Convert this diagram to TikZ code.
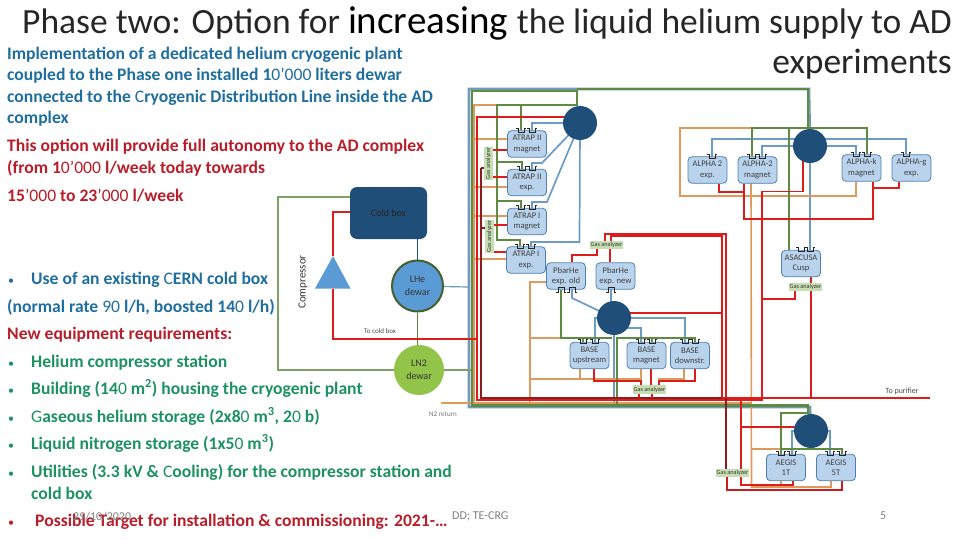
\documentclass[tikz,border=0pt]{standalone}
\usepackage{fontspec}
\setmainfont{Carlito}
\usetikzlibrary{backgrounds}
\definecolor{lblue}{HTML}{6F9BB8}
\definecolor{pblue}{HTML}{6A9BCB}
\definecolor{lgreen}{HTML}{5F8A42}
\definecolor{lorange}{HTML}{DD9A5C}
\definecolor{lred}{HTML}{DD1C1C}
\definecolor{dred}{HTML}{8E1B1E}
\definecolor{boxfill}{HTML}{B9D3EC}
\definecolor{boxline}{HTML}{4F7FAE}
\definecolor{navy}{HTML}{1F4E79}
\definecolor{gasfill}{HTML}{C6DFB2}
\definecolor{tblue}{HTML}{1F6E9E}
\definecolor{tred}{HTML}{B81E2A}
\definecolor{tgreen}{HTML}{1E9162}
\definecolor{foot}{HTML}{808080}
\definecolor{lhefill}{HTML}{5B9BD5}
\definecolor{lnfill}{HTML}{92C44A}
\tikzset{
 exptbox/.style={draw=boxline,fill=boxfill,line width=.8pt,rounded corners=4pt,minimum width=39pt,minimum height=26.5pt,inner sep=0pt,align=center,text=black!75,font=\fontsize{8.6}{10.5}\selectfont},
 hub/.style={circle,fill=navy,minimum size=34pt,inner sep=0pt},
 gasbox/.style={fill=gasfill,inner sep=0pt,minimum width=33pt,minimum height=8.5pt,font=\fontsize{6.2}{7}\selectfont,text=black!80},
 gasboxv/.style={gasbox,rotate=90},
 small/.style={text=black!70,font=\fontsize{7}{8}\selectfont,inner sep=0pt},
 blue1/.style={draw=lblue,line width=2.6pt},
 blue2/.style={draw=pblue,line width=1.7pt},
 green1/.style={draw=lgreen,line width=2.2pt},
 green2/.style={draw=lgreen,line width=1.4pt},
 orange1/.style={draw=lorange,line width=1.6pt},
 red1/.style={draw=lred,line width=2pt},
 red2/.style={draw=lred,line width=1.3pt},
 dark1/.style={draw=dred,line width=1.6pt},
 tline/.style={anchor=base west,inner sep=0pt,font=\fontsize{17.6}{20}\selectfont\bfseries},
 bul/.style={anchor=base west,inner sep=0pt,font=\fontsize{12}{14}\selectfont},
 port/.style={draw=black!85,line width=.6pt},
 footer/.style={anchor=base west,inner sep=0pt,text=foot,font=\fontsize{12}{14}\selectfont}
}
\newcommand{\topport}[2]{\draw[port] (#1-5,#2-3)--(#1-3,#2-3)--(#1-3,#2+1)--(#1+3,#2+1)--(#1+3,#2-3)--(#1+5,#2-3);}
\newcommand{\botport}[2]{\draw[port] (#1-5,#2+3)--(#1-3,#2+3)--(#1-3,#2-2)--(#1+3,#2-2)--(#1+3,#2+3)--(#1+5,#2+3);}
\newcommand{\lite}[1]{{\mdseries #1}}
\begin{document}
\begin{tikzpicture}[x=1pt,y=-1pt]
\pgfdeclarelayer{lines}\pgfsetlayers{lines,main}
\useasboundingbox (0,0) rectangle (960,540);
% ---- title
\node[anchor=base west,inner sep=0pt,font=\fontsize{35.5}{40}\selectfont] (ttl) at (22,33.5)
 {\textcolor{black!85}{Phase two: Option for }\fontsize{39}{40}\selectfont increasing \fontsize{35.5}{40}\selectfont\textcolor{black!85}{the liquid helium supply to AD}};
\node[anchor=base east,inner sep=0pt,font=\fontsize{35.5}{40}\selectfont,text=black!85] (ttl2) at (952,74) {experiments};
% ---- left text
\begin{scope}[text=tblue]
\node[tline] (t1) at (7,60) {Implementation of a dedicated helium cryogenic plant};
\node[tline] (t2) at (7,81) {coupled to the Phase one installed 1\lite{0’000} liters dewar};
\node[tline] (t3) at (7,103) {connected to the \lite{C}ryogenic Distribution Line inside the AD};
\node[tline] (t4) at (7,124) {complex};
\node[bul] (b1) at (8,284) {•};
\node[tline] (t8) at (31,284) {Use of an existing \lite{C}ERN cold box};
\node[tline] (t9) at (7,312) {(normal rate \lite{90} l/h, boosted 14\lite{0} l/h)};
\end{scope}
\begin{scope}[text=tred]
\node[tline] (t5) at (7,152) {This option will provide full autonomy to the AD complex};
\node[tline] (t6) at (7,174) {(from 1\lite{0’000} l/week today towards};
\node[tline] (t7) at (7,201) {15\lite{’000} to 23\lite{’000} l/week};
\node[tline] (t10) at (7,339) {New equipment requirements:};
\node[bul] (b7) at (8,526) {•};
\node[tline] (t17) at (35,526) {Possible Target for installation \& commissioning: 2021-…};
\end{scope}
\begin{scope}[text=tgreen]
\node[bul] (b2) at (8,367) {•};
\node[tline] (t11) at (31,367) {Helium compressor station};
\node[bul] (b3) at (8,394) {•};
\node[tline] (t12) at (31,394) {Building (14\lite{0} m\textsuperscript{2}) housing the cryogenic plant};
\node[bul] (b4) at (8,422) {•};
\node[tline] (t13) at (31,422) {\lite{G}aseous helium storage (2x8\lite{0} m\textsuperscript{3}, 2\lite{0} b)};
\node[bul] (b5) at (8,449) {•};
\node[tline] (t14) at (31,449) {Liquid nitrogen storage (1x5\lite{0} m\textsuperscript{3})};
\node[bul] (b6) at (8,477) {•};
\node[tline] (t15) at (31,477) {Utilities (3.3 kV \& \lite{C}ooling) for the compressor station and};
\node[tline] (t16) at (31,499) {cold box};
\end{scope}
\node[footer] (f1) at (73,520) {29/10/2020};
\node[footer] (f2) at (452,519) {DD; TE-CRG};
\node[footer] (f3) at (880,519) {5};
% ---- plant
\node[draw=none,fill=navy,rounded corners=7pt,minimum width=77pt,minimum height=52pt,inner sep=0pt,text=black!85,font=\fontsize{10}{11}\selectfont] (cold) at (388.5,213) {Cold box};
\node[circle,draw=lgreen!70!black,line width=2pt,fill=lhefill,minimum size=51pt,inner sep=0pt,align=center,text=black!80,font=\fontsize{10}{13}\selectfont] (lhe) at (417.5,286) {LHe\\dewar};
\node[circle,fill=lnfill,minimum size=50pt,inner sep=0pt,align=center,text=black!80,font=\fontsize{10}{13}\selectfont] (ln2) at (419,370) {LN2\\dewar};
\fill[lhefill] (333,256) -- (350.5,288.5) -- (315,288.5) -- cycle;
\coordinate (cmptop) at (333,256); \coordinate (cmpbot) at (333,288.5);
\node[rotate=90,inner sep=0pt,font=\fontsize{11}{12}\selectfont,text=black!80] (cmplbl) at (303,282) {Compressor};
\node[small] (tocold) at (380,331) {To cold box};
\node[small,text=black!55] (n2ret) at (443,414) {N2 return};
\node[small,font=\fontsize{8}{9}\selectfont] (topur) at (902,391) {To purifier};
% ---- experiment boxes
\node[exptbox] (a2m) at (527,144) {ATRAP II\\magnet};
\node[exptbox] (a2e) at (527,182.5) {ATRAP II\\exp.};
\node[exptbox] (a1m) at (527,221.5) {ATRAP I\\magnet};
\node[exptbox] (a1e) at (526,260) {ATRAP I\\exp.};
\node[exptbox] (pbo) at (566,276) {PbarHe\\exp. old};
\node[exptbox] (pbn) at (615.5,276) {PbarHe\\exp. new};
\node[exptbox] (bu) at (589.5,355.5) {BASE\\upstream};
\node[exptbox] (bm) at (646.5,355.5) {BASE\\magnet};
\node[exptbox] (bd) at (690,355.5) {BASE\\downstr.};
\node[exptbox] (al2) at (707.5,170) {ALPHA 2\\exp.};
\node[exptbox] (alm) at (757.5,170) {ALPHA-2\\magnet};
\node[exptbox] (alk) at (861.5,168) {ALPHA-k\\magnet};
\node[exptbox] (alg) at (911.5,168) {ALPHA-g\\exp.};
\node[exptbox] (asa) at (801,263.5) {ASACUSA\\Cusp};
\node[exptbox] (ae1) at (786,467.5) {AEGIS\\1T};
\node[exptbox] (ae5) at (836,467.5) {AEGIS\\5T};
% ---- hubs
\node[hub] (h1) at (580,123) {};
\node[hub] (h2) at (810,146) {};
\node[hub] (h3) at (614,318) {};
\node[hub] (h4) at (811,431) {};
% ---- gas analyzers
\node[gasboxv] (g1) at (488.5,163.5) {Gas analyzer};
\node[gasboxv] (g2) at (489.5,236.5) {Gas analyzer};
\node[gasbox] (g3) at (606.5,245) {Gas analyzer};
\node[gasbox] (g4) at (805.5,287) {Gas analyzer};
\node[gasbox] (g5) at (649.5,389.5) {Gas analyzer};
\node[gasbox] (g6) at (732.5,473) {Gas analyzer};
% ---- ports
\foreach \x/\y in {521/131,532/131,522/169,532/169,521/208,532/208,520/247,531/247,712/157,752/157,762/157,856/155,867/155,906/155,801/250,810/250,583/342,595/342,641/342,652/342,685/342,695/342,781/454,792/454,830/454,842/454}{\topport{\x}{\y}}
\foreach \x/\y in {561/289,572/289,611/289}{\botport{\x}{\y}}
% ---- lines
\begin{pgfonlayer}{lines}
% main blue trunk
\draw[blue1] (h2.center) -- (809,89) -- (469,89) -- (469,407) -- (810,407) -- (h4.center);
\draw[blue1] (h3.center) -- (614,407);
% blue to experiments
\draw[blue2] (h1.center) -- (532,123) -- (a2m.north -| 532,0);
\draw[blue2] (h1.center) -- (542,163) -- (532,163) -- (a2e.north -| 532,0);
\draw[blue2] (h1.center) -- (547,202) -- (532,202) -- (a1m.north -| 532,0);
\draw[blue2] (h1.center) -- (579.5,242) -- (531,242) -- (a1e.north -| 531,0);
\draw[blue2] (h2.center |- 0,139) -- (712,139) -- (al2.north -| 712,0);
\draw[blue2] (h2.center |- 0,139) -- (906,139) -- (alg.north -| 906,0);
\draw[blue2] (h2.center) -- (762,146) -- (alm.north -| 762,0);
\draw[blue2] (h2.center) -- (856,146) -- (alk.north -| 856,0);
\draw[blue2] (h2.center) -- (asa.north -| 810,0);
\draw[blue2] (pbo.south -| 572,0) -- (572,298) -- (h3.center);
\draw[blue2] (pbn.south -| 611,0) -- (h3.center -| 611,0);
\draw[blue2] (h3.center) -- (595,318) -- (bu.north -| 595,0);
\draw[blue2] (h3.center) -- (685,318) -- (bd.north -| 685,0);
\draw[blue2] (h3.center) -- (628,328) -- (641,328) -- (bm.north -| 641,0);
\draw[blue2] (h4.center) -- (792,431) -- (ae1.north -| 792,0);
\draw[blue2] (h4.center) -- (830,431) -- (ae5.north -| 830,0);
\draw[draw=lblue,line width=1.2pt] (lhe) -- (468,287);
% orange
\draw[orange1] (497,105) -- (474,105) -- (474,402.7) -- (441,402.7);
\draw[orange1] (474,402.7) -- (752,402.7);
\draw[orange1] (474,139) -- (a2m.west |- 0,139);
\draw[orange1] (474,187) -- (a2e.west |- 0,187);
\draw[orange1] (474,216) -- (a1m.west |- 0,216);
\draw[orange1] (474,259) -- (a1e.west |- 0,259);
\draw[orange1] (pbo.west |- 0,282) -- (530,282) -- (530,402.7);
\draw[draw=lorange,line width=1.2pt] (530,338) -- (561,338);
\draw[orange1,line width=1.2pt] (530,379) -- (641,379) -- (g5.north -| 641,0);
\draw[orange1,line width=1.2pt] (bu.south -| 580,0) -- (580,379);
\draw[orange1,line width=1.2pt] (bm.south -| 641,0) -- (641,379);
\draw[orange1,line width=1.2pt] (g5.north -| 659,0) -- (659,379) -- (684,379) -- (bd.south -| 684,0);
\draw[orange1,line width=1.2pt] (752,128) -- (680,128) -- (680,196) -- (856,196) -- (alk.south -| 856,0);
\draw[orange1] (alm.south -| 751,0) -- (751.5,487) -- (831,487) -- (ae5.south -| 831,0);
\draw[orange1,line width=1.2pt] (ae1.south -| 781,0) -- (781,487);
\draw[orange1,line width=1.2pt] (751.5,449) -- (781,449);
% green
\draw[green1] (472,402) -- (472,91) -- (577,91) -- (577,105) -- (497,105) -- (497,240) -- (520,240) -- (a1e.north -| 520,0);
\draw[green1] (472,402) -- (472,405.5) -- (808,405.5) -- (808,413) -- (781,413) -- (ae1.north -| 781,0);
\draw[green1] (521,105) -- (a2m.north -| 521,0);
\draw[green1] (497,162) -- (522,162) -- (a2e.north -| 522,0);
\draw[green1] (497,201) -- (521,201) -- (a1m.north -| 521,0);
\draw[green1,line width=1.6pt] (577,89.3) -- (808,89.3) -- (808,128) -- (752,128) -- (alm.north -| 752,0);
\draw[green2] (808,128) -- (867,128) -- (alk.north -| 867,0);
\draw[green1] (789,128) -- (asa.north -| 789,0);
\draw[green2] (pbo.south -| 561,0) -- (561,338) -- (612,338);
\draw[green2] (583,338) -- (bu.north -| 583,0);
\draw[green2] (617,405) -- (617,338) -- (695,338) -- (bd.north -| 695,0);
\draw[green2] (652,338) -- (bm.north -| 652,0);
\draw[green2] (781,449) -- (842,449) -- (ae5.north -| 842,0);
\draw[draw=lgreen!80,line width=1.2pt] (cold.west |- 0,197) -- (278,197) -- (278,370) -- (ln2.west);
\draw[draw=lgreen!80,line width=1.2pt] (ln2.east) -- (471,370);
\draw[draw=lgreen,line width=1.2pt] (lhe.south) -- (ln2.north -| lhe.south);
\draw[draw=navy,line width=1.2pt] (cold.south -| lhe.north) -- (lhe.north);
% red
\draw[red1] (h1.center |- 0,117) -- (477,117) -- (477,400) -- (763,400);
\draw[dark1] (481,168) -- (481,397.8) -- (726,397.8);
\draw[red1,line width=1.5pt] (cmptop) -- (333,212) -- (cold.west |- 0,212);
\draw[red1,line width=1.5pt] (cmpbot) -- (333,339) -- (477,339);
\draw[red1] (g1.center |- 0,150) -- (a2m.west |- 0,150);
\draw[red1] (g1.center |- 0,177) -- (a2e.west |- 0,177);
\draw[red1] (g2.center |- 0,225) -- (a1m.west |- 0,225);
\draw[red1] (g2.center |- 0,252) -- (a1e.west |- 0,252);
\draw[dark1] (481,168) -- (g1.center |- 0,168);
\draw[dark1] (481,228) -- (g2.center |- 0,228);
\draw[red1,line width=1.5pt] (pbo.north -| 572,0) -- (572,255) -- (597,255) -- (g3.south -| 597,0);
\draw[red1,line width=1.3pt] (pbn.north -| 610,0) -- (g3.south -| 610,0);
\draw[red1] (g3.north -| 605,0) -- (605,233.5) -- (726,233.5) -- (726,397.8);
\draw[draw=lred,line width=1.4pt] (g3.north -| 611,0) -- (611,236) -- (722,236) -- (722,398);
\draw[red1] (h3.center |- 0,313) -- (722,313);
\draw[red1] (bu.south -| 594,0) -- (594,381) -- (641,381) -- (g5.north -| 641,0);
\draw[red1] (bm.south -| 651,0) -- (g5.north -| 651,0);
\draw[red1] (bd.south -| 695,0) -- (695,381) -- (659,381) -- (g5.north -| 659,0);
\draw[red1] (g5.south -| 639,0) -- (639,398);
\draw[red1] (g5.south -| 652,0) -- (652,398);
\draw[red1] (al2.south -| 719,0) -- (719,192) -- (744,192);
\draw[red1] (alm.south -| 744,0) -- (744,219) -- (873,219) -- (alk.south -| 873,0);
\draw[red1] (873,188) -- (899,188) -- (alg.south -| 899,0);
\draw[red2] (h2.center -| 803,0) -- (803,191.7) -- (762,191.7) -- (762,398);
\draw[red2,line width=1.6pt] (762,299) -- (795,299) -- (g4.south -| 795,0);
\draw[red2,line width=1.5pt] (asa.south -| 811,0) -- (811,398);
\draw[red2,line width=1.5pt] (722,398) -- (930,398);
\draw[red2,line width=1.5pt] (741,398) -- (741,485) -- (793,485) -- (ae1.south -| 793,0);
\draw[red2,line width=1.5pt] (741,427) -- (h4.center |- 0,427);
\draw[dark1,line width=1.4pt] (726,398) -- (726,470);
\draw[red1,draw=lred!75!dred] (g6.south -| 727,0) -- (727,490) -- (842,490) -- (ae5.south -| 842,0);
\end{pgfonlayer}
\end{tikzpicture}
\end{document}
